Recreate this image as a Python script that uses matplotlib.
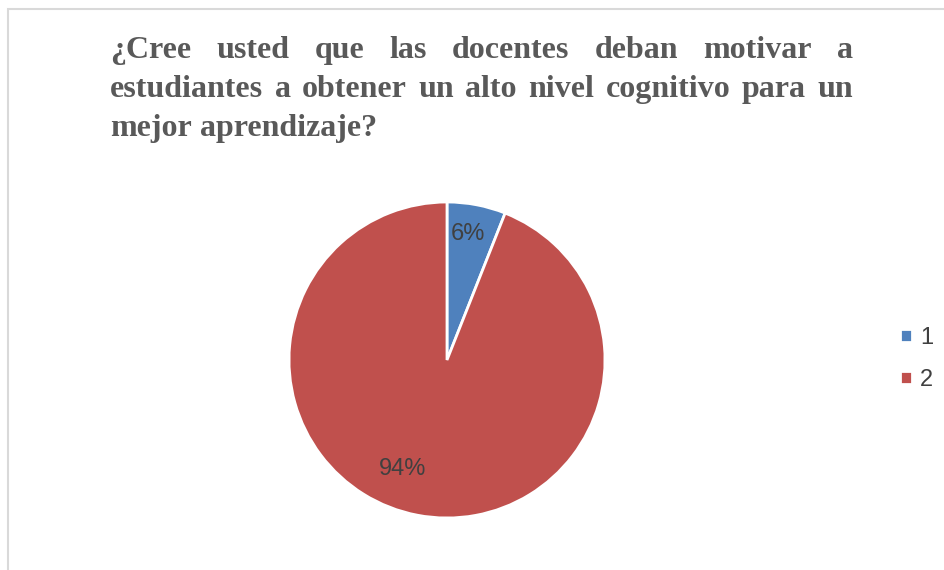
import matplotlib
matplotlib.use("Agg")
import matplotlib.pyplot as plt
from matplotlib.patches import Rectangle

# data
labels = ["1", "2"]
values = [6, 94]
colors = ["#4F81BD", "#C0504D"]
title_lines = [
    "¿Cree usted que las docentes deban motivar a",
    "estudiantes a obtener un alto nivel cognitivo para un",
    "mejor aprendizaje?",
]

W, H = 944, 570
fig = plt.figure(figsize=(W / 100, H / 100), dpi=100)

# chart border (cut off at right and bottom like the screenshot)
fig.patches.append(Rectangle((8 / W, -0.1), 1.2, 1 - 9 / H + 0.1, transform=fig.transFigure,
                             fill=False, edgecolor="#D9D9D9", linewidth=1.5))

# pie
cx, cy, r = 447, 360, 158
ax = fig.add_axes([(cx - r) / W, (H - cy - r) / H, 2 * r / W, 2 * r / H])
wedges, _, autotexts = ax.pie(values, colors=colors, startangle=90, counterclock=False,
                              autopct="%1.0f%%", pctdistance=0.8,
                              wedgeprops=dict(edgecolor="white", linewidth=2),
                              textprops=dict(fontsize=17, color="#404040", family="Liberation Sans"))
ax.set_xlim(-1, 1)
ax.set_ylim(-1, 1)
ax.set_aspect("equal")
ax.axis("off")
autotexts[0].set_position((0.13, 0.80))
autotexts[1].set_position((-0.28, -0.69))

# legend
leg = fig.legend(wedges, labels, loc="center left", bbox_to_anchor=(900 / W, 1 - 359 / H),
                 frameon=False, fontsize=17, handlelength=0.5, handleheight=0.5,
                 handletextpad=0.35, labelspacing=0.85, borderpad=0, borderaxespad=0)
for t in leg.get_texts():
    t.set_color("#404040")
    t.set_family("Liberation Sans")

# justified title
x0, x1 = 110, 853
baselines = [58, 97, 136]
tstyle = dict(fontsize=23, fontweight="bold", family="Liberation Serif", color="#595959",
              va="baseline", ha="left", transform=fig.transFigure)
fig.canvas.draw()
renderer = fig.canvas.get_renderer()
for i, line in enumerate(title_lines):
    y = 1 - baselines[i] / H
    words = line.split(" ")
    texts = [fig.text(x0 / W, y, w, **tstyle) for w in words]
    widths = [t.get_window_extent(renderer).width for t in texts]
    if i < len(title_lines) - 1:
        gap = (x1 - x0 - sum(widths)) / (len(words) - 1)
    else:
        gap = renderer.points_to_pixels(23) * 0.25
    x = x0
    for t, w in zip(texts, widths):
        t.set_x(x / W)
        x += w + gap

fig.savefig("out.png", dpi=100)
